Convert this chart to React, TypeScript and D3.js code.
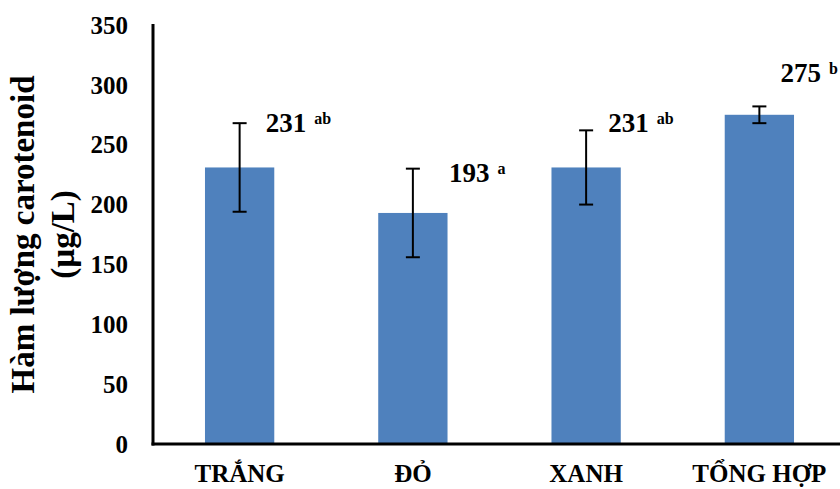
import React from "react";
import * as d3 from "d3";

const WIDTH = 840;
const HEIGHT = 489;
const MARGIN = { top: 25, right: -6, bottom: 45, left: 153 };
const BAR_COLOR = "#4f81bd";
const FONT = "'Liberation Serif', 'Times New Roman', serif";

const categories = ["TRẮNG", "ĐỎ", "XANH", "TỔNG HỢP"];
const means = [231, 193, 231, 275];
const errors = [37, 37, 31, 7];
const letters = ["ab", "a", "ab", "b"];
const yTicks = [0, 50, 100, 150, 200, 250, 300, 350];

// label nudges (px), as placed by hand in the original
const LABEL_DX = [26, 36, 22, 21];
const LABEL_DY = [30, 26, 30, 27];

export default function App() {
  const innerW = WIDTH - MARGIN.left - MARGIN.right;
  const innerH = HEIGHT - MARGIN.top - MARGIN.bottom;

  const x = d3
    .scaleBand<string>()
    .domain(categories)
    .range([0, innerW])
    .paddingInner(0.6)
    .paddingOuter(0.3);

  const y = d3.scaleLinear().domain([0, 350]).range([innerH, 0]);
  const capW = 7;

  return (
    <svg
      width={WIDTH}
      height={HEIGHT}
      style={{ position: "absolute", top: 0, left: 0, background: "#fff" }}
      fontFamily={FONT}
      fontWeight="bold"
    >
      <g transform={`translate(${MARGIN.left},${MARGIN.top})`}>
        {/* bars */}
        {categories.map((c, i) => (
          <rect
            key={c}
            x={x(c)}
            y={y(means[i])}
            width={x.bandwidth()}
            height={innerH - y(means[i])}
            fill={BAR_COLOR}
          />
        ))}

        {/* error bars */}
        {categories.map((c, i) => {
          const cx = (x(c) as number) + x.bandwidth() / 2;
          const y1 = y(means[i] + errors[i]);
          const y2 = y(means[i] - errors[i]);
          return (
            <g key={c} stroke="#000" strokeWidth={2}>
              <line x1={cx} x2={cx} y1={y1} y2={y2} />
              <line x1={cx - capW} x2={cx + capW} y1={y1} y2={y1} />
              <line x1={cx - capW} x2={cx + capW} y1={y2} y2={y2} />
            </g>
          );
        })}

        {/* value labels with significance letters */}
        {categories.map((c, i) => {
          const cx = (x(c) as number) + x.bandwidth() / 2;
          return (
            <text
              key={c}
              x={cx + LABEL_DX[i]}
              y={y(means[i] + LABEL_DY[i])}
              fontSize={27}
              fill="#000"
            >
              {means[i]}
              <tspan dx={8} dy={-8} fontSize={16}>
                {letters[i]}
              </tspan>
            </text>
          );
        })}

        {/* y tick labels */}
        {yTicks.map((t) => (
          <text
            key={t}
            x={-25}
            y={y(t)}
            dy="0.35em"
            textAnchor="end"
            fontSize={25}
            fill="#000"
          >
            {t}
          </text>
        ))}

        {/* x category labels */}
        {categories.map((c) => (
          <text
            key={c}
            x={(x(c) as number) + x.bandwidth() / 2}
            y={innerH + 38}
            textAnchor="middle"
            fontSize={25}
            fill="#000"
          >
            {c}
          </text>
        ))}

        {/* axes */}
        <line x1={0} x2={0} y1={-1} y2={innerH + 1.5} stroke="#000" strokeWidth={3} />
        <line x1={-1.5} x2={innerW} y1={innerH} y2={innerH} stroke="#000" strokeWidth={3} />
      </g>

      {/* y axis title */}
      <text
        transform={`translate(34,${MARGIN.top + innerH / 2}) rotate(-90)`}
        textAnchor="middle"
        fontSize={33}
        fill="#000"
      >
        Hàm lượng carotenoid
      </text>
      <text
        transform={`translate(74,${MARGIN.top + innerH / 2}) rotate(-90)`}
        textAnchor="middle"
        fontSize={33}
        fill="#000"
      >
        (µg/L)
      </text>
    </svg>
  );
}
